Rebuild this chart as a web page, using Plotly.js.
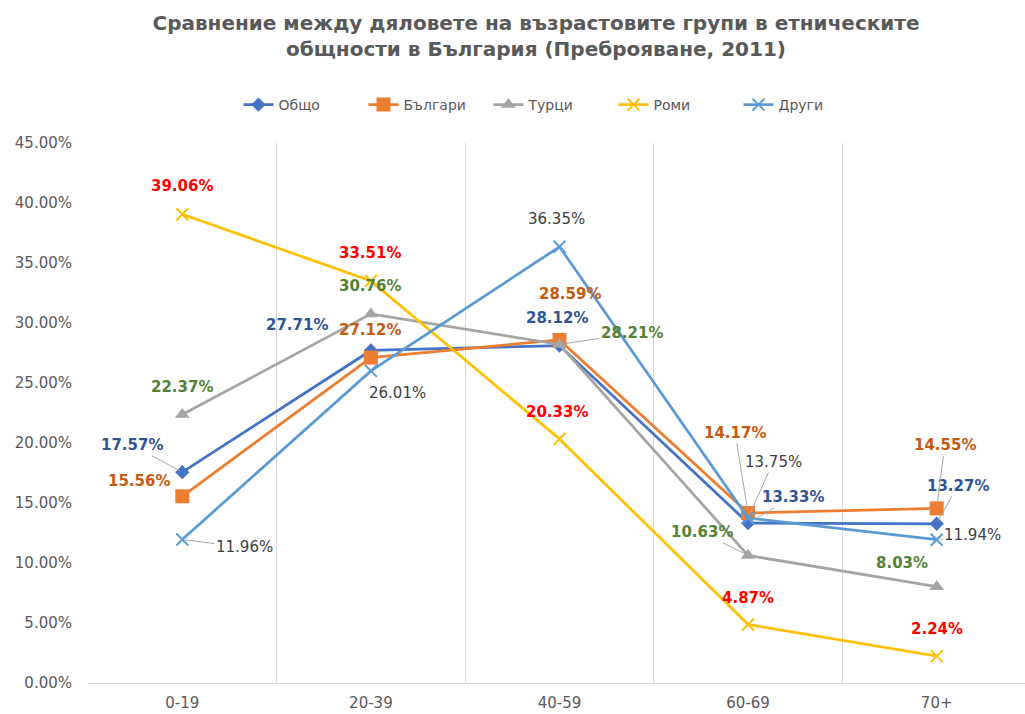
<!DOCTYPE html>
<html>
<head>
<meta charset="utf-8">
<script src="https://cdn.plot.ly/plotly-3.0.1.min.js"></script>
<style>html,body{margin:0;padding:0;background:#fff;overflow:hidden;}#chart{width:1031px;height:714px;}</style>
</head>
<body>
<div id="chart"></div>
<script>
// ---- data ----
const categories = ["0-19", "20-39", "40-59", "60-69", "70+"];
const seriesNames = ["Общо", "Българи", "Турци", "Роми", "Други"];
const obshto  = [17.57, 27.71, 28.12, 13.33, 13.27];
const bulgari = [15.56, 27.12, 28.59, 14.17, 14.55];
const turtsi  = [22.37, 30.76, 28.21, 10.63, 8.03];
const romi    = [39.06, 33.51, 20.33, 4.87, 2.24];
const drugi   = [11.96, 26.01, 36.35, 13.75, 11.94];
const yTickVals = [0, 0.05, 0.10, 0.15, 0.20, 0.25, 0.30, 0.35, 0.40, 0.45];

// ---- styles ----
const W = 1031, H = 714;
const seriesData = [obshto, bulgari, turtsi, romi, drugi];
const lineColors = ["#4472C4", "#ED7D31", "#A5A5A5", "#FFC000", "#5B9BD5"];
const labelColors = ["#2F5597", "#C55A11", "#548235", "#FF0000", "#404040"];
const labelBold = [true, true, true, true, false];
const symbols = ["diamond", "square", "triangle-up", "x-thin-open", "x-thin-open"];
const markerSizes = [11, 14, 13, 12, 12];
// label offsets in pixels [dx, dy, leader]
const labelOffsets = [
  [[-50,-27,1], [-74,-25,0], [-3,-28,0], [45,-26,1], [21,-38,1]],
  [[-43,-15,0], [-1,-28,0], [10,-46,0], [-13,-80,1], [8,-63,1]],
  [[0,-28,0], [-1,-28,0], [72,-11,1], [-46,-23,1], [-35,-24,0]],
  [[0,-28,0], [-1,-28,0], [-3,-27,0], [0,-27,0], [0,-27,0]],
  [[62,8,1], [27,22,0], [-3,-28,0], [25,-56,1], [36,-5,1]]
];

const font = "DejaVu Sans, sans-serif";

const traces = seriesNames.map((name, i) => ({
  type: "scatter",
  mode: "lines+markers",
  name: name,
  x: categories,
  y: seriesData[i].map(v => v / 100),
  line: {color: lineColors[i], width: 2.75},
  marker: {
    symbol: symbols[i], size: markerSizes[i], color: lineColors[i],
    line: {color: lineColors[i], width: (symbols[i].indexOf("x") === 0 ? 2 : 0)}
  },
  hoverinfo: "skip"
}));

const annotations = [];
seriesNames.forEach((name, i) => {
  seriesData[i].forEach((v, j) => {
    const [dx, dy, leader] = labelOffsets[i][j];
    const txt = v.toFixed(2) + "%";
    const f = {family: font, size: 15, color: labelColors[i], weight: labelBold[i] ? "bold" : "normal"};
    if (leader) {
      annotations.push({
        x: categories[j], y: v / 100, xref: "x", yref: "y",
        text: txt, font: f, showarrow: true, arrowhead: 0, arrowwidth: 1,
        arrowcolor: "#A6A6A6", ax: dx, ay: dy, standoff: 3
      });
    } else {
      annotations.push({
        x: categories[j], y: v / 100, xref: "x", yref: "y",
        text: txt, font: f, showarrow: false, xshift: dx, yshift: -dy
      });
    }
  });
});

const layout = {
  width: W, height: H,
  paper_bgcolor: "#ffffff", plot_bgcolor: "#ffffff",
  margin: {l: 88, r: 0, t: 143, b: 31},
  font: {family: font, color: "#595959"},
  title: {
    text: "Сравнение между дяловете на възрастовите групи в етническите<br>общности в България (Преброяване, 2011)",
    font: {family: font, size: 20, color: "#595959", weight: "bold"},
    x: 536 / W, xanchor: "center", xref: "container",
    y: 1 - 30 / H, yanchor: "middle", yref: "container"
  },
  showlegend: true,
  legend: {
    orientation: "h", x: 551 / W, xanchor: "center", xref: "container",
    y: 1 - 105 / H, yref: "container", yanchor: "middle",
    font: {family: font, size: 14, color: "#595959"},
    entrywidth: 80, entrywidthmode: "pixels", tracegroupgap: 0
  },
  xaxis: {
    type: "category", range: [-0.5, 4.5], tickson: "boundaries",
    showgrid: true, gridcolor: "#D9D9D9", gridwidth: 1,
    showline: true, linecolor: "#D9D9D9", linewidth: 1,
    ticks: "", ticklabelstandoff: 6,
    tickfont: {family: font, size: 15, color: "#595959"},
    zeroline: false, fixedrange: true
  },
  yaxis: {
    range: [0, 0.45], tickvals: yTickVals, tickformat: ".2%",
    showgrid: false, zeroline: false, showline: false,
    ticks: "", ticklabelstandoff: 15,
    tickfont: {family: font, size: 15, color: "#595959"},
    fixedrange: true
  },
  annotations: annotations
};

Plotly.newPlot("chart", traces, layout, {displayModeBar: false, staticPlot: true});
</script>
</body>
</html>
